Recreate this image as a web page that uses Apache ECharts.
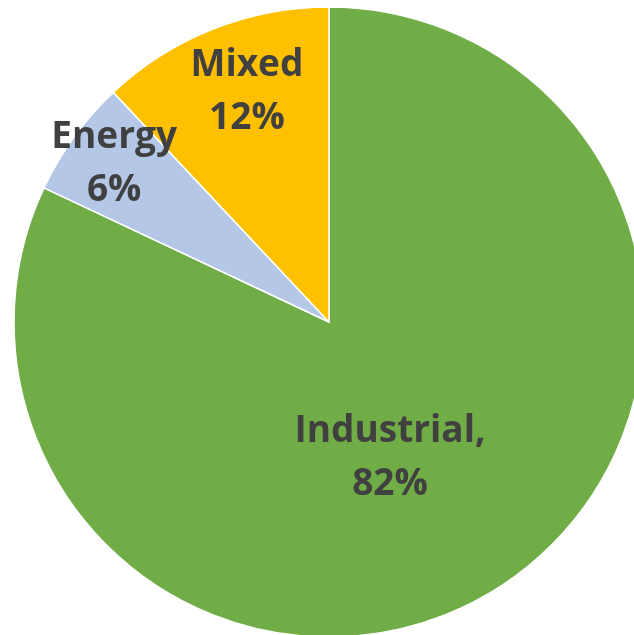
<!DOCTYPE html>
<html>
<head>
<meta charset="utf-8">
<style>
  html, body { margin: 0; padding: 0; background: #ffffff; }
  #chart { width: 634px; height: 635px; }
</style>
<script src="https://cdn.jsdelivr.net/npm/echarts@6/dist/echarts.min.js"></script>
</head>
<body>
<div id="chart"></div>
<script>
// Share of sites by type
const categories = ['Industrial', 'Energy', 'Mixed'];
const shares = [82, 6, 12];
const sliceColors = ['#70AD47', '#B4C7E7', '#FFC000'];
// label text per slice and nudges from the default inside position
const labelTexts = ['Industrial,\n82%', 'Energy\n6%', 'Mixed\n12%'];
const labelOffsets = [[-25, 0], [-85, -64], [-23, -81]];

const chart = echarts.init(document.getElementById('chart'), null, { renderer: 'canvas' });

const data = categories.map((name, i) => ({
  name: name,
  value: shares[i],
  itemStyle: { color: sliceColors[i] },
  label: { formatter: labelTexts[i], offset: labelOffsets[i] }
}));

chart.setOption({
  animation: false,
  series: [{
    type: 'pie',
    center: [329, 322],
    radius: [0, 315],
    startAngle: 90,
    clockwise: true,
    avoidLabelOverlap: false,
    itemStyle: { borderColor: '#ffffff', borderWidth: 1.5 },
    label: {
      show: true,
      position: 'inside',
      color: '#404040',
      fontFamily: 'Open Sans',
      fontWeight: 'bold',
      fontSize: 37,
      lineHeight: 53,
      align: 'center'
    },
    labelLine: { show: false },
    emphasis: { disabled: true },
    data: data
  }]
});
</script>
</body>
</html>
